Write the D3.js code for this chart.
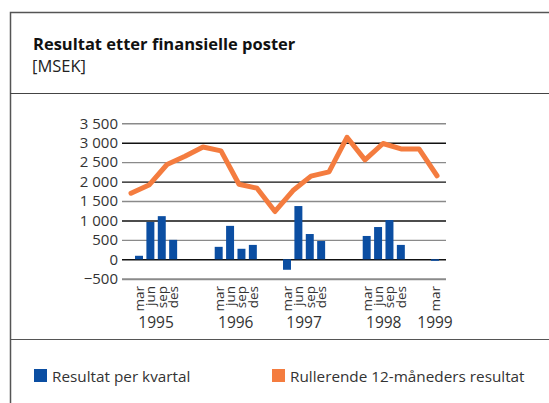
<!DOCTYPE html>
<html>
<head>
<meta charset="utf-8">
<script src="https://cdn.jsdelivr.net/npm/d3@7/dist/d3.min.js"></script>
<style>
  html, body { margin: 0; padding: 0; background: #fff; }
  svg { display: block; font-family: "Open Sans", "Noto Sans", sans-serif; }
</style>
</head>
<body>
<svg id="chart" width="549" height="403"></svg>
<script>
// ---- data ----
const title = "Resultat etter finansielle poster";
const unit = "[MSEK]";
const periods = ["1995-mar","1995-jun","1995-sep","1995-des","gap1","gap2","gap3",
                 "1996-mar","1996-jun","1996-sep","1996-des","gap4","gap5",
                 "1997-mar","1997-jun","1997-sep","1997-des","gap6","gap7","gap8",
                 "1998-mar","1998-jun","1998-sep","1998-des","gap9","gap10",
                 "1999-mar"];
const quarterly = [90, 960, 1110, 500, null, null, null,
                   320, 860, 270, 370, null, null,
                   -270, 1370, 650, 470, null, null, null,
                   600, 830, 1010, 370, null, null,
                   -40];
const rolling = [1700, 1910, 2440, 2650, 2890, 2790, 1930, 1830, 1230,
                 1770, 2140, 2250, 3140, 2560, 2980, 2840, 2840, 2150];
const years = ["1995", "1996", "1997", "1998", "1999"];
const yTicks = [-500, 0, 500, 1000, 1500, 2000, 2500, 3000, 3500];
const seriesNames = ["Resultat per kvartal", "Rullerende 12-måneders resultat"];
const colors = ["#0b4ea2", "#f47c3f"];

// ---- layout ----
const svg = d3.select("#chart");
const plotL = 122, plotR = 446, plotT = 123.3, plotB = 278.7;

const y = d3.scaleLinear().domain([-500, 3500]).range([plotB, plotT]);
const step = (435 - 139) / 26;
const xBar = d3.scaleBand().domain(periods)
  .range([139 - step / 2, 435 + step / 2])
  .paddingInner(0.3).paddingOuter(0.15);
const xLine = d3.scaleBand().domain(d3.range(rolling.length))
  .range([plotL, plotR]);

// frame
svg.append("path").attr("d", "M549,12.5H10.5V403")
  .attr("fill", "none").attr("stroke", "#555").attr("stroke-width", 1.5);
svg.append("line").attr("x1", 10).attr("x2", 549).attr("y1", 93.5).attr("y2", 93.5)
  .attr("stroke", "#444").attr("stroke-width", 1.2);
svg.append("line").attr("x1", 10).attr("x2", 549).attr("y1", 339.5).attr("y2", 339.5)
  .attr("stroke", "#555").attr("stroke-width", 1.2);

// titles
svg.append("text").attr("x", 33).attr("y", 50).attr("font-size", 16.5)
  .attr("font-weight", "bold").attr("fill", "#111").text(title);
svg.append("text").attr("x", 32).attr("y", 72).attr("font-size", 16.5)
  .attr("fill", "#222").text(unit);

// gridlines
const yAxis = d3.axisLeft(y).tickValues(yTicks)
  .tickSize(-(plotR - plotL)).tickPadding(4)
  .tickFormat(d => d3.format(",")(d).replace(/,/g, " "));
const gy = svg.append("g").attr("transform", `translate(${plotL},0)`).call(yAxis);
gy.select(".domain").remove();
gy.selectAll(".tick line")
  .attr("stroke", (d, i) => (i % 2 === 1) ? "#111" : "#8a8a8a")
  .attr("stroke-width", (d) => d === -500 ? 2 : 1.4);
gy.selectAll(".tick text").attr("font-size", 15).attr("fill", "#333")
  .attr("font-family", "'Open Sans', sans-serif");

// bars
const barData = periods.map((p, i) => ({ p, v: quarterly[i] })).filter(d => d.v !== null);
svg.append("g").selectAll("rect").data(barData).join("rect")
  .attr("x", d => xBar(d.p))
  .attr("width", xBar.bandwidth())
  .attr("y", d => y(Math.max(0, d.v)))
  .attr("height", d => Math.abs(y(d.v) - y(0)))
  .attr("fill", colors[0]);

// line
const line = d3.line()
  .x((d, i) => xLine(i) + xLine.bandwidth() / 2)
  .y(d => y(d));
svg.append("path").datum(rolling).attr("d", line)
  .attr("fill", "none").attr("stroke", colors[1]).attr("stroke-width", 5)
  .attr("stroke-linejoin", "round").attr("stroke-linecap", "round");

// month labels
svg.append("g").selectAll("text").data(barData).join("text")
  .attr("transform", d => `translate(${xBar(d.p) + xBar.bandwidth() / 2},286) rotate(-90)`)
  .attr("text-anchor", "end").attr("dy", "0.36em")
  .attr("font-size", 13.5).attr("fill", "#333")
  .text(d => d.p.split("-")[1]);

// year labels
const yearCenters = years.map(yr => {
  const ps = barData.filter(d => d.p.startsWith(yr));
  return { yr, x: d3.mean(ps, d => xBar(d.p) + xBar.bandwidth() / 2) };
});
svg.append("g").selectAll("text").data(yearCenters).join("text")
  .attr("x", d => d.x).attr("y", 328).attr("text-anchor", "middle")
  .attr("font-size", 15.5).attr("fill", "#333").text(d => d.yr);

// legend
const legendX = [34, 272];
const lg = svg.append("g").selectAll("g").data(seriesNames).join("g")
  .attr("transform", (d, i) => `translate(${legendX[i]},369)`);
lg.append("rect").attr("width", 13).attr("height", 13).attr("fill", (d, i) => colors[i]);
lg.append("text").attr("x", 18).attr("y", 13).attr("font-size", 15.3)
  .attr("fill", "#333").text(d => d);
</script>
</body>
</html>
